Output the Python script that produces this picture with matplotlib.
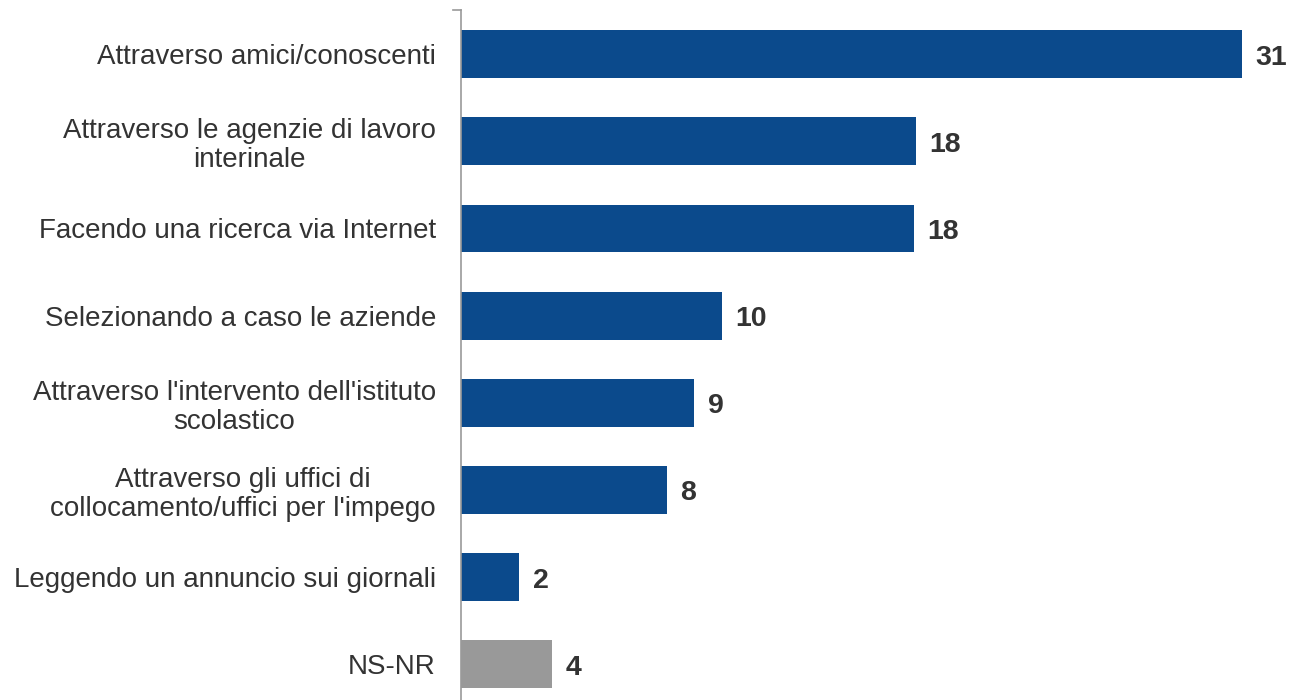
import matplotlib.pyplot as plt

categories = ["Attraverso amici/conoscenti",
              "Attraverso le agenzie di lavoro\ninterinale",
              "Facendo una ricerca via Internet",
              "Selezionando a caso le aziende",
              "Attraverso l'intervento dell'istituto\nscolastico",
              "Attraverso gli uffici di\ncollocamento/uffici per l'impego",
              "Leggendo un annuncio sui giornali",
              "NS-NR"]
values = [31.0, 18.06, 17.98, 10.36, 9.25, 8.17, 2.3, 3.61]
labels = ["31", "18", "18", "10", "9", "8", "2", "4"]
colors = ["#0B4A8C"] * 7 + ["#999999"]

plt.rcParams['font.family'] = ['Liberation Sans', 'DejaVu Sans']

fig = plt.figure(figsize=(12.92, 7), dpi=100)
ax = fig.add_axes([461 / 1292, 0, 1 - 461 / 1292, 690 / 700])

ys = list(range(len(categories)))
ax.barh(ys, values, height=0.55, color=colors)
for y, v, lab in zip(ys, values, labels):
    ax.text(v + 0.55, y + 0.04, lab, va='center', ha='left', fontsize=20.5,
            fontweight='bold', color='#333333')

ax.set_xlim(0, 33.0)
ax.set_ylim(7.41, -0.507)
ax.set_yticks(ys)
ax.set_yticklabels(categories, fontsize=20, color='#333333')
for lbl in ax.get_yticklabels():
    lbl.set_multialignment('center')
    lbl.set_linespacing(1.15)
ax.tick_params(axis='y', length=0, pad=18)
ax.set_xticks([])
for s in ['top', 'right', 'bottom']:
    ax.spines[s].set_visible(False)
ax.spines['left'].set_color('#999999')
ax.spines['left'].set_linewidth(1.2)
ax.plot([-0.3, 0], [-0.507, -0.507], color='#999999', lw=1.2, clip_on=False)

fig.savefig('out.png', dpi=100)
